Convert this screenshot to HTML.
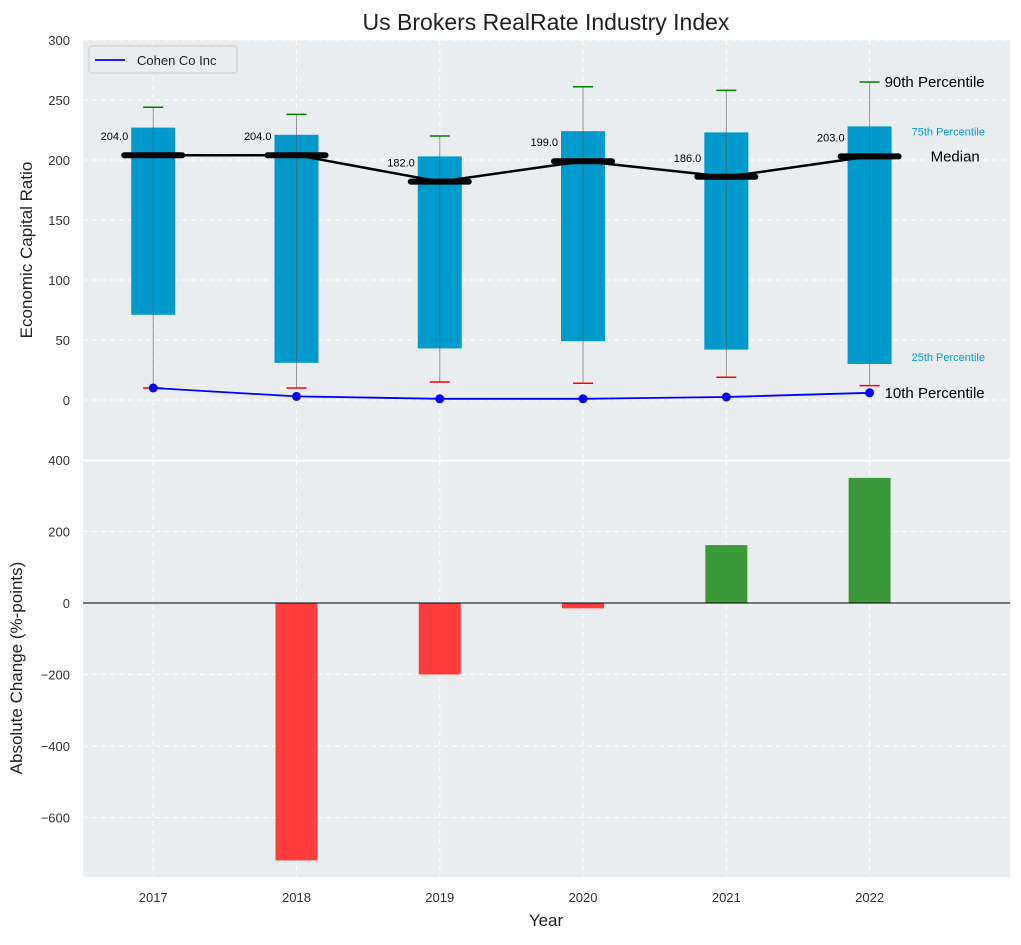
<!DOCTYPE html>
<html><head><meta charset="utf-8"><style>
body{margin:0;background:#fff;font-family:"Liberation Sans",sans-serif}
</style></head><body>
<svg id="c" width="1021" height="940" xmlns="http://www.w3.org/2000/svg" font-family="Liberation Sans, sans-serif"></svg>
<script>
const years=[2017,2018,2019,2020,2021,2022];
const p10=[10,10,15,14,19,12];
const q1=[71,31,43,49,42,30];
const med=[204,204,182,199,186,203];
const q3=[227,221,203,224,223,228];
const p90=[244,238,220,261,258,265];
const company=[10,3,1,1,2.5,6];
const change=[0,-720,-200,-15,162,350];
const topTicks=[0,50,100,150,200,250,300];
const botTicks=[-600,-400,-200,0,200,400];
const NS='http://www.w3.org/2000/svg';
const svg=document.getElementById('c');
function el(t,a,p){const e=document.createElementNS(NS,t);for(const k in a)e.setAttribute(k,a[k]);(p||svg).appendChild(e);return e;}
const L=83,R=1010;
const x=v=>L+(v-2016.51)/(2022.98-2016.51)*(R-L);
const yT=v=>400-v*1.2;
const yB=v=>603-v*(71.5/200);
// backgrounds
let e=el('rect',{x:L,y:40,width:R-L,height:420,fill:'#eaedef'});

e=el('rect',{x:L,y:461,width:R-L,height:416,fill:'#eaedef'});

// grids
years.forEach(v=>{
 el('line',{x1:x(v),x2:x(v),y1:40,y2:460,stroke:'#fff','stroke-dasharray':'5,4'});
 el('line',{x1:x(v),x2:x(v),y1:461,y2:877,stroke:'#fff','stroke-dasharray':'5,4'});
 const t=el('text',{x:x(v),y:902,'font-size':13,fill:'#333','text-anchor':'middle'});t.textContent=v;
 
});
topTicks.forEach(v=>{
 el('line',{x1:L,x2:R,y1:yT(v),y2:yT(v),stroke:'#fff','stroke-dasharray':'5,4'});
 const t=el('text',{x:70,y:yT(v)+5,'font-size':13,fill:'#333','text-anchor':'end'});t.textContent=v;
 
});
botTicks.forEach(v=>{
 el('line',{x1:L,x2:R,y1:yB(v),y2:yB(v),stroke:'#fff','stroke-dasharray':'5,4'});
 const t=el('text',{x:70,y:yB(v)+5,'font-size':13,fill:'#333','text-anchor':'end'});t.textContent=v<0?'\u2212'+(-v):v;
 
});
el('line',{x1:L,x2:R,y1:460.5,y2:460.5,stroke:'#fff','stroke-width':2});
// boxes
years.forEach((v,i)=>{
 const cx=x(v);
 let b=el('rect',{x:cx-22,y:yT(q3[i]),width:44,height:yT(q1[i])-yT(q3[i]),fill:'#009acd'});
 
 el('line',{x1:cx,x2:cx,y1:yT(p10[i]),y2:yT(p90[i]),stroke:'#555','stroke-opacity':0.6,'stroke-width':1});
 let c=el('line',{x1:cx-10,x2:cx+10,y1:yT(p90[i]),y2:yT(p90[i]),stroke:'green','stroke-width':1.5});
 
 c=el('line',{x1:cx-10,x2:cx+10,y1:yT(p10[i]),y2:yT(p10[i]),stroke:'red','stroke-width':1.5});
 
 const bar=el('rect',{x:cx-21,y:Math.min(yB(0),yB(change[i])),width:42,height:Math.abs(yB(change[i])-yB(0)),fill:change[i]>=0?'#3a9a3a':'#ff3d3d'});
 
});
// median line
let mp=years.map((v,i)=>x(v)+','+yT(med[i])).join(' ');
e=el('polyline',{points:mp,fill:'none',stroke:'#000','stroke-width':2.5});

years.forEach((v,i)=>{
 const cx=x(v);
 let m=el('line',{x1:cx-29,x2:cx+29,y1:yT(med[i]),y2:yT(med[i]),stroke:'#000','stroke-width':6,'stroke-linecap':'round'});
 
 let t=el('text',{x:cx-25,y:yT(med[i])-15,'font-size':11,fill:'#000','text-anchor':'end'});t.textContent=med[i].toFixed(1);
 
});
// company
e=el('polyline',{points:years.map((v,i)=>x(v)+','+yT(company[i])).join(' '),fill:'none',stroke:'#0000ff','stroke-width':1.8});

years.forEach((v,i)=>{let d=el('circle',{cx:x(v),cy:yT(company[i]),r:4.5,fill:'#0000ff'});
 });
// zero line
el('line',{x1:L,x2:R,y1:yB(0),y2:yB(0),stroke:'#000','stroke-width':1});
// annotations
const last=5,lx=x(years[last]);
function ann(tx,y,txt,fs,col,name){const t=el('text',{x:tx,y:y,'font-size':fs,fill:col});t.textContent=txt;}
ann(lx+15,yT(p90[last])+5,'90th Percentile',15,'#000','p90-annotation');
ann(lx+42,yT(q3[last])+9,'75th Percentile',11,'#009acd','p75-annotation');
ann(lx+61,yT(med[last])+5,'Median',15,'#000','median-annotation');
ann(lx+42,yT(q1[last])-3,'25th Percentile',11,'#009acd','p25-annotation');
ann(lx+15,yT(company[last])+5,'10th Percentile',15,'#000','p10-annotation');
// titles
let t=el('text',{x:546,y:30,'font-size':23,fill:'#222','text-anchor':'middle'});t.textContent='Us Brokers RealRate Industry Index';

t=el('text',{x:546,y:926,'font-size':17,fill:'#222','text-anchor':'middle'});t.textContent='Year';

t=el('text',{x:32,y:250,'font-size':17,fill:'#222','text-anchor':'middle',transform:'rotate(-90 32 250)'});t.textContent='Economic Capital Ratio';

t=el('text',{x:22,y:668,'font-size':17,fill:'#222','text-anchor':'middle',transform:'rotate(-90 22 668)'});t.textContent='Absolute Change (%-points)';

// legend
e=el('rect',{x:89,y:46,width:148,height:27,fill:'#eaedef',stroke:'#ccc',rx:3});

el('line',{x1:95,x2:125,y1:60,y2:60,stroke:'#0000ff','stroke-width':1.8});
t=el('text',{x:137,y:65,'font-size':13,fill:'#222'});t.textContent='Cohen Co Inc';

</script>
</body></html>
